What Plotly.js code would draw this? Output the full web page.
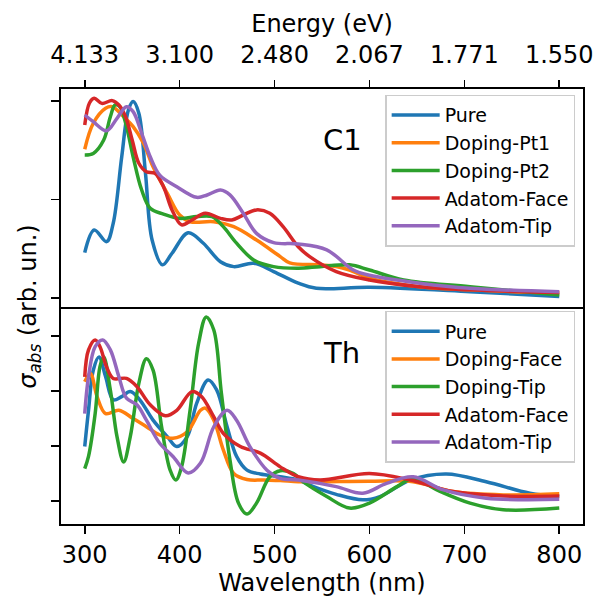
<!DOCTYPE html>
<html>
<head>
<meta charset="utf-8">
<script src="https://cdn.plot.ly/plotly-3.0.1.min.js"></script>
<style>html,body{margin:0;padding:0;background:#fff;}#chart{width:601px;height:604px;}</style>
</head>
<body>
<div id="chart"></div>
<script>
// ---------- C1 panel (top) ----------
const c1_pure_nm = [300,310,323,330,339,346,351,357,364,371,382,392,409,425,443,457,478,499,525,544,600,706,800];
const c1_pure    = [0.23,0.345,0.286,0.379,0.717,0.954,0.997,0.938,0.633,0.294,0.168,0.227,0.331,0.278,0.184,0.159,0.176,0.134,0.075,0.049,0.054,0.032,0.007];
const c1_pt1_nm  = [300,309,322,329,341,351,362,372,387,400,411,436,457,481,506,516,548,565,579,600,653,706,800];
const c1_pt1     = [0.755,0.887,0.963,0.971,0.920,0.870,0.785,0.666,0.531,0.421,0.387,0.387,0.362,0.294,0.210,0.178,0.168,0.160,0.142,0.100,0.057,0.041,0.024];
const c1_pt2_nm  = [300,309,320,327,332,337,344,351,360,369,383,400,418,434,446,460,478,499,525,548,579,600,636,706,800];
const c1_pt2     = [0.726,0.734,0.802,0.920,0.980,0.971,0.870,0.717,0.548,0.455,0.426,0.404,0.413,0.413,0.362,0.278,0.193,0.159,0.151,0.159,0.168,0.142,0.091,0.057,0.015];
const c1_face_nm = [300,305,310,318,329,336,343,350,357,365,374,383,392,402,413,427,443,455,467,481,495,509,525,537,565,600,653,706,800];
const c1_face    = [0.878,0.990,1.014,0.988,1.002,0.980,0.920,0.802,0.684,0.641,0.633,0.565,0.447,0.371,0.396,0.430,0.404,0.396,0.421,0.447,0.430,0.362,0.260,0.210,0.134,0.091,0.057,0.041,0.027];
const c1_tip_nm  = [300,309,323,334,344,351,360,369,379,397,418,429,443,453,467,481,499,525,555,583,600,653,706,800];
const c1_tip     = [0.929,0.895,0.849,0.912,0.971,0.946,0.836,0.717,0.624,0.565,0.511,0.523,0.548,0.523,0.430,0.328,0.281,0.274,0.244,0.142,0.115,0.075,0.049,0.032];

// ---------- Th panel (bottom) ----------
const th_pure_nm = [300,304,309,315,322,330,339,348,358,372,387,397,408,418,430,439,450,460,471,485,506,525,541,565,593,611,643,681,723,769,800];
const th_pure    = [0.99,1.65,2.38,2.62,2.26,1.84,1.90,1.99,1.84,1.47,1.17,0.99,1.17,1.78,2.20,2.02,1.35,0.81,0.56,0.49,0.44,0.38,0.26,0.12,0.02,0.08,0.38,0.49,0.35,0.14,0.08];
const th_dface_nm = [300,306,313,322,336,351,365,379,393,408,422,427,436,446,457,471,488,506,525,548,600,646,688,741,800];
const th_dface    = [2.17,2.32,1.90,1.59,1.65,1.50,1.35,1.20,1.14,1.26,1.65,1.69,1.47,0.93,0.50,0.39,0.38,0.37,0.35,0.35,0.36,0.35,0.17,0.11,0.13];
const th_dtip_nm = [300,304,311,316,320,327,334,341,348,357,365,372,381,390,396,402,411,420,428,436,444,453,462,471,481,495,506,520,530,555,579,600,629,646,671,706,741,800];
const th_dtip    = [0.59,0.81,1.59,2.44,2.62,2.02,1.17,0.71,1.17,2.14,2.59,2.38,1.35,0.56,0.38,0.62,1.65,2.87,3.35,3.11,1.96,0.75,-0.04,-0.24,-0.04,0.44,0.55,0.50,0.35,0.08,-0.13,-0.04,0.26,0.41,0.20,-0.04,-0.16,-0.13];
const th_aface_nm = [300,304,311,316,323,330,344,355,369,385,397,413,423,436,446,464,485,506,525,548,600,643,688,741,800];
const th_aface    = [2.26,2.75,2.93,2.81,2.44,2.23,2.23,2.08,1.75,1.55,1.65,1.99,1.90,1.53,1.23,0.99,0.87,0.62,0.44,0.38,0.50,0.38,0.17,0.09,0.09];
const th_atip_nm = [300,304,311,319,327,336,344,355,365,379,393,409,422,436,450,460,474,492,506,525,565,593,618,646,678,723,800];
const th_atip    = [1.59,2.26,2.81,2.93,2.75,2.26,1.87,1.75,1.47,1.05,0.81,0.51,0.69,1.35,1.65,1.47,0.99,0.56,0.41,0.38,0.26,0.14,0.32,0.44,0.20,0.05,0.03];

const c1_names = ['Pure','Doping-Pt1','Doping-Pt2','Adatom-Face','Adatom-Tip'];
const th_names = ['Pure','Doping-Face','Doping-Tip','Adatom-Face','Adatom-Tip'];
const colors = ['#1f77b4','#ff7f0e','#2ca02c','#d62728','#9467bd'];

const wl_ticks = [300,400,500,600,700,800];
const energy_labels = ['4.133','3.100','2.480','2.067','1.771','1.550'];

const c1_x = [c1_pure_nm,c1_pt1_nm,c1_pt2_nm,c1_face_nm,c1_tip_nm];
const c1_y = [c1_pure,c1_pt1,c1_pt2,c1_face,c1_tip];
const th_x = [th_pure_nm,th_dface_nm,th_dtip_nm,th_aface_nm,th_atip_nm];
const th_y = [th_pure,th_dface,th_dtip,th_aface,th_atip];

const traces = [];
for (let i=0;i<5;i++){
  traces.push({x:c1_x[i], y:c1_y[i], name:c1_names[i], type:'scatter', mode:'lines',
    line:{color:colors[i], width:3.5, shape:'spline', smoothing:1}, xaxis:'x2', yaxis:'y2', legend:'legend'});
}
for (let i=0;i<5;i++){
  traces.push({x:th_x[i], y:th_y[i], name:th_names[i], type:'scatter', mode:'lines',
    line:{color:colors[i], width:3.5, shape:'spline', smoothing:1}, xaxis:'x', yaxis:'y', legend:'legend2'});
}
// carrier for the top energy axis
traces.push({x:[], y:[], xaxis:'x3', yaxis:'y2', showlegend:false, hoverinfo:'skip'});

const FONT = 'DejaVu Sans, Liberation Sans, sans-serif';
const FS = 24;
const xr = [275, 825];
const split = 217/435;

const layout = {
  width:601, height:604,
  margin:{l:61, r:18, t:89, b:80},
  paper_bgcolor:'#ffffff', plot_bgcolor:'#ffffff',
  font:{family:FONT, color:'#000', size:FS},
  showlegend:true,
  xaxis:{domain:[0,1], anchor:'y', range:xr, tickvals:wl_ticks, ticks:'outside', ticklen:8, tickwidth:1.6,
    tickcolor:'#000', showline:true, linewidth:2, linecolor:'#000', mirror:false, showgrid:false, zeroline:false,
    tickfont:{size:FS}, title:{text:'Wavelength (nm)', font:{size:FS}, standoff:4}},
  xaxis2:{domain:[0,1], anchor:'y2', range:xr, matches:'x', showticklabels:false, ticks:'', showline:true,
    linewidth:2, linecolor:'#000', mirror:true, showgrid:false, zeroline:false},
  xaxis3:{domain:[0,1], anchor:'y2', overlaying:'x2', side:'top', range:xr, tickvals:wl_ticks, ticktext:energy_labels,
    ticks:'outside', ticklen:8, tickwidth:1.6, tickcolor:'#000', showline:false, showgrid:false, zeroline:false,
    ticklabelstandoff:7,
    tickfont:{size:FS}, title:{text:'Energy (eV)', font:{size:FS}, standoff:2}},
  yaxis:{domain:[0,split], anchor:'x', range:[-0.42,3.53], tickvals:[0,1,2,3], showticklabels:false, ticks:'outside',
    ticklen:8, tickwidth:1.6, tickcolor:'#000', showline:true, linewidth:2, linecolor:'#000', mirror:true,
    showgrid:false, zeroline:false},
  yaxis2:{domain:[split,1], anchor:'x2', range:[-0.046,1.061], tickvals:[0,0.5,1], showticklabels:false, ticks:'outside',
    ticklen:8, tickwidth:1.6, tickcolor:'#000', showline:true, linewidth:2, linecolor:'#000', mirror:true,
    showgrid:false, zeroline:false},
  legend:{x:0.621, y:0.987, xanchor:'left', yanchor:'top', bgcolor:'rgba(255,255,255,0.85)', bordercolor:'#cccccc',
    borderwidth:1.5, itemwidth:48, font:{size:19, family:FONT}},
  legend2:{x:0.621, y:0.490, xanchor:'left', yanchor:'top', bgcolor:'rgba(255,255,255,0.85)', bordercolor:'#cccccc',
    borderwidth:1.5, itemwidth:48, font:{size:19, family:FONT}},
  annotations:[
    {text:'C1', xref:'paper', yref:'paper', x:0.540, y:0.883, xanchor:'center', yanchor:'middle', showarrow:false, font:{size:29}},
    {text:'Th', xref:'paper', yref:'paper', x:0.537, y:0.394, xanchor:'center', yanchor:'middle', showarrow:false, font:{size:29}},
    {text:'<i>σ</i><sub><i>abs</i></sub> (arb. un.)', xref:'paper', yref:'paper', x:-0.061, y:0.5,
      xanchor:'center', yanchor:'middle', textangle:-90, showarrow:false, font:{size:FS}}
  ]
};

Plotly.newPlot('chart', traces, layout, {displayModeBar:false, staticPlot:true});
</script>
</body>
</html>
